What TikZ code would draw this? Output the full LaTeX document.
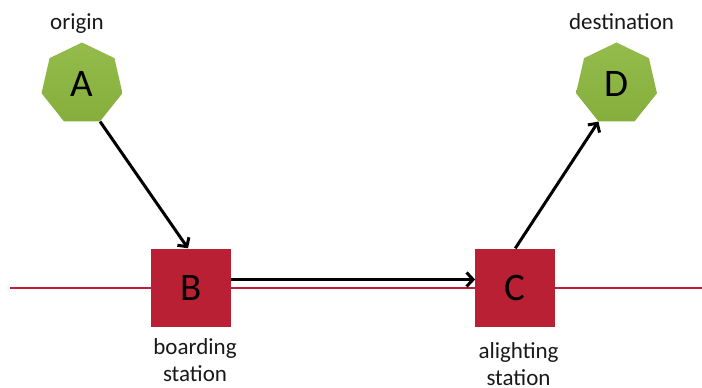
\documentclass[tikz,border=0pt]{standalone}
\usepackage{fontspec}
\setmainfont{Carlito}
\usetikzlibrary{shapes.geometric,arrows.meta}
\definecolor{hepttop}{RGB}{148,188,76}
\definecolor{heptbot}{RGB}{134,174,60}
\definecolor{sqred}{RGB}{186,32,52}
\definecolor{linered}{RGB}{190,30,50}
\definecolor{txt}{RGB}{25,25,25}
\tikzset{
  hept/.style={regular polygon, regular polygon sides=7, minimum size=83pt, inner sep=0pt,
    top color=hepttop, bottom color=heptbot, draw=none, font=\fontsize{39}{39}\selectfont, text=black},
  sq/.style={rectangle, minimum width=80pt, minimum height=78pt, inner sep=0pt, fill=sqred,
    draw=none, font=\fontsize{39}{39}\selectfont, text=black},
  lab/.style={font=\fontsize{23}{27}\selectfont, text=txt, inner sep=0pt, align=center},
  arr/.style={draw=black, line width=3pt, -{Straight Barb[length=6.5pt,width=14pt]}},
  redline/.style={draw=linered, line width=2pt}
}
\begin{document}
\begin{tikzpicture}[x=1pt,y=-1pt]
\useasboundingbox (0,0) rectangle (702,388);
\coordinate (L1) at (10,288);
\coordinate (L2) at (702,288);
\draw[redline] (L1) -- (L2);
\node[hept] (A) at (82,84) {A};
\node[hept] (D) at (616.5,84) {D};
\node[sq] (B) at (191,287.5) {B};
\node[sq] (C) at (515.3,287.5) {C};
\node[lab, anchor=base] (lo) at (77,29.5) {origin};
\node[lab, anchor=base] (ld) at (621.5,29.5) {destination};
\node[lab, anchor=north] (lb) at (195,338) {boarding\\station};
\node[lab, anchor=north] (lc) at (518.5,342) {alighting\\station};
\draw[arr] (A.corner 5) -- ([xshift=-3pt]B.north);
\draw[arr] ([yshift=8pt]B.east) -- ([yshift=8pt]C.west);
\draw[arr] (C.north) -- (D.corner 4);
\end{tikzpicture}
\end{document}
